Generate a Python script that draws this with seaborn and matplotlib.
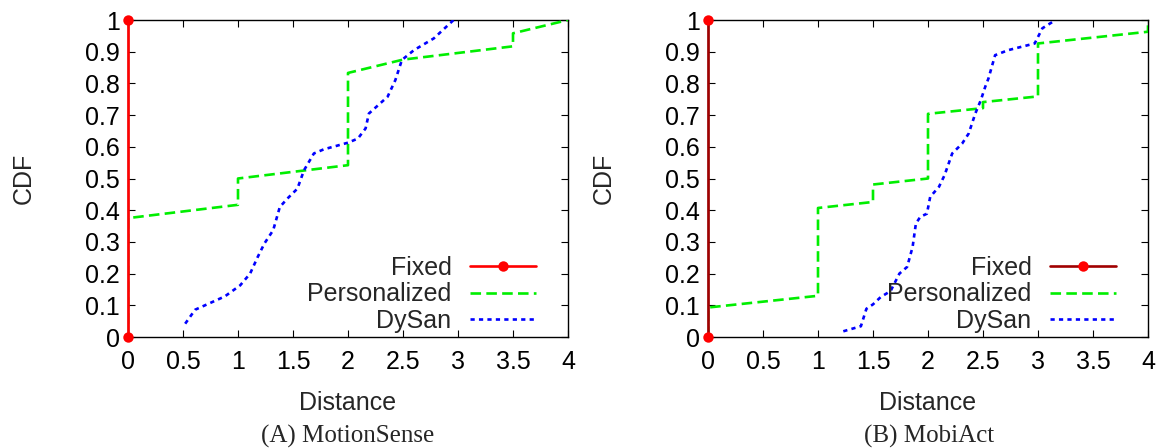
import matplotlib
matplotlib.use('Agg')
import matplotlib.pyplot as plt
import seaborn as sns
from matplotlib.ticker import FormatStrFormatter

# Fixed: all distances at 0
fixed_x = [0, 0]
fixed_y = [0, 1]

# MotionSense (A)
ms_pers_x = [0, 0, 1, 1, 2, 2, 2.5, 3.5, 3.5, 4]
ms_pers_y = [0.042, 0.375, 0.417, 0.5, 0.542, 0.833, 0.875, 0.917, 0.958, 1.0]
ms_dysan_x = [0.52, 0.61, 0.70, 0.88, 1.02, 1.11, 1.18, 1.24, 1.32, 1.38, 1.45, 1.54,
              1.60, 1.69, 1.78, 2.00, 2.09, 2.16, 2.19, 2.36, 2.43, 2.49, 2.60, 2.78, 2.96]
ms_dysan_y = [0.042, 0.086, 0.10, 0.128, 0.163, 0.20, 0.253, 0.295, 0.337, 0.41, 0.437, 0.468,
              0.526, 0.579, 0.592, 0.613, 0.626, 0.658, 0.705, 0.758, 0.81, 0.874, 0.905, 0.942, 1.0]

# MobiAct (B)
ma_pers_x = [0, 0, 1, 1, 1.5, 1.5, 2, 2, 2.5, 2.5, 3, 3, 4, 4]
ma_pers_y = [0.0, 0.093, 0.130, 0.407, 0.426, 0.481, 0.500, 0.704, 0.722, 0.741, 0.759, 0.926, 0.963, 1.0]
ma_dysan_x = [1.23, 1.39, 1.44, 1.50, 1.57, 1.66, 1.74, 1.81, 1.86, 1.89, 1.93, 1.99, 2.02,
              2.10, 2.15, 2.22, 2.31, 2.37, 2.43, 2.48, 2.52, 2.55, 2.61, 2.73, 2.97, 3.04, 3.16]
ma_dysan_y = [0.018, 0.034, 0.089, 0.103, 0.126, 0.145, 0.20, 0.221, 0.284, 0.358, 0.379, 0.389, 0.442,
              0.474, 0.51, 0.579, 0.61, 0.642, 0.705, 0.747, 0.789, 0.816, 0.889, 0.905, 0.926, 0.974, 1.0]

captions = ['(A) MotionSense', '(B) MobiAct']
xticks = [0, 0.5, 1, 1.5, 2, 2.5, 3, 3.5, 4]
yticks = [0, 0.1, 0.2, 0.3, 0.4, 0.5, 0.6, 0.7, 0.8, 0.9, 1]

sns.set_style('ticks')
plt.rcParams['font.family'] = ['Liberation Sans', 'DejaVu Sans']
fs = 18

fig = plt.figure(figsize=(11.64, 4.48), dpi=100)
ax1 = fig.add_axes([128 / 1164, 111 / 448, 440 / 1164, 317 / 448])
ax2 = fig.add_axes([708 / 1164, 111 / 448, 440 / 1164, 317 / 448])

panels = [
    (ax1, ms_pers_x, ms_pers_y, ms_dysan_x, ms_dysan_y, '#ff0000'),
    (ax2, ma_pers_x, ma_pers_y, ma_dysan_x, ma_dysan_y, '#a00000'),
]

for ax, px, py, dx, dy, fixed_col in panels:
    sns.lineplot(x=px, y=py, ax=ax, estimator=None, sort=False, color='#00ee00',
                 linestyle=(0, (4, 2)), linewidth=1.9, label='Personalized', zorder=3)
    sns.lineplot(x=dx, y=dy, ax=ax, estimator=None, sort=False, color='#0000ff',
                 linestyle=(0, (1.6, 1.6)), linewidth=1.9, label='DySan', zorder=3)
    sns.lineplot(x=fixed_x, y=fixed_y, ax=ax, estimator=None, sort=False, color=fixed_col,
                 linewidth=1.9, marker='o', markersize=7.5, markeredgewidth=0,
                 markerfacecolor='#ff0000', label='Fixed', zorder=4, clip_on=False)

    ax.set_xlim(0, 4)
    ax.set_ylim(0, 1)
    ax.set_xticks(xticks)
    ax.set_yticks(yticks)
    ax.xaxis.set_major_formatter(FormatStrFormatter('%g'))
    ax.yaxis.set_major_formatter(FormatStrFormatter('%g'))
    ax.tick_params(direction='in', length=5, width=0.8, top=True, right=True,
                   labelsize=fs, colors='black')
    ax.tick_params(axis='x', pad=9)
    ax.tick_params(axis='y', pad=6)
    for s in ax.spines.values():
        s.set_color('black')
        s.set_linewidth(1.0)
        s.set_visible(True)

    ax.set_xlabel('Distance', fontsize=fs)
    ax.set_ylabel('CDF', fontsize=fs)
    ax.xaxis.set_label_coords(0.5, -0.17)
    ax.yaxis.set_label_coords(-0.21, 0.5)

    h, l = ax.get_legend_handles_labels()
    order = [l.index('Fixed'), l.index('Personalized'), l.index('DySan')]
    ax.legend([h[k] for k in order], [l[k] for k in order], loc='lower right',
              bbox_to_anchor=(0.968, -0.042), frameon=False, markerfirst=False,
              handlelength=2.65, handletextpad=0.75, labelspacing=0.1, numpoints=1,
              fontsize=fs, borderaxespad=0.3)

    ax.set_facecolor('white')

fig.text(348 / 1164, 12 / 448, captions[0], ha='center', va='center',
         fontsize=fs, family=['Liberation Serif', 'DejaVu Serif'])
fig.text(929 / 1164, 12 / 448, captions[1], ha='center', va='center',
         fontsize=fs, family=['Liberation Serif', 'DejaVu Serif'])

fig.savefig('out.png', dpi=100, facecolor='white')
